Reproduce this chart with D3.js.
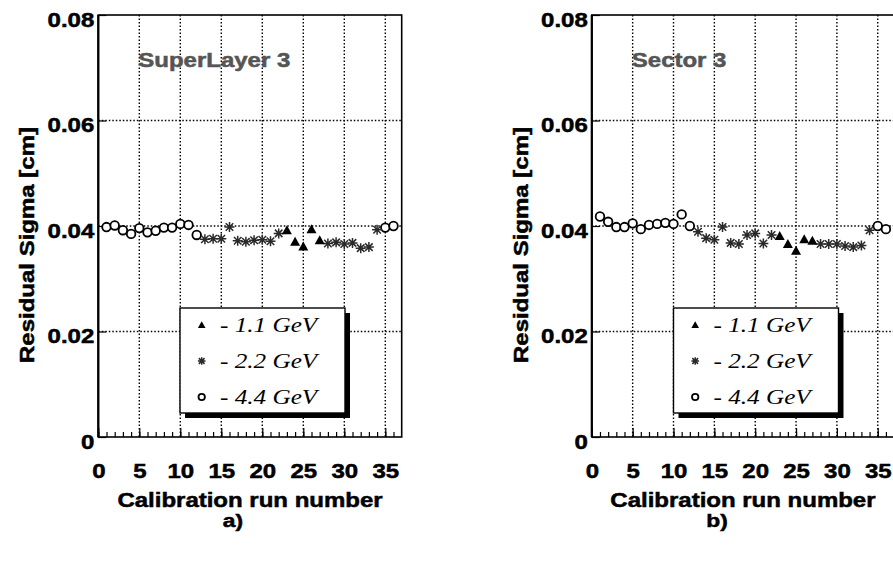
<!DOCTYPE html>
<html>
<head>
<meta charset="utf-8">
<script src="https://cdn.jsdelivr.net/npm/d3@7"></script>
<style>
  body { margin: 0; background: #fff; }
  svg { display: block; }
</style>
</head>
<body>
<div id="chart"></div>
<script>
// ---- data ----
var xTicks = [0, 5, 10, 15, 20, 25, 30, 35];
var yTicks = [0, 0.02, 0.04, 0.06, 0.08];
var yTickLabels = ["0", "0.02", "0.04", "0.06", "0.08"];
var legendLabels = ["- 1.1 GeV", "- 2.2 GeV", "- 4.4 GeV"];

// panel a) SuperLayer 3
var slRuns11 = [23, 24, 25, 26, 27];
var slSigma11 = [0.0392, 0.0370, 0.0361, 0.0394, 0.0373];
var slRuns22 = [13, 14, 15, 16, 17, 18, 19, 20, 21, 22, 28, 29, 30, 31, 32, 33, 34];
var slSigma22 = [0.0375, 0.0376, 0.0376, 0.0398, 0.0372, 0.0370, 0.0373, 0.0374, 0.0371, 0.0386,
                 0.0367, 0.0369, 0.0366, 0.0368, 0.0358, 0.0360, 0.0393];
var slRuns44 = [1, 2, 3, 4, 5, 6, 7, 8, 9, 10, 11, 12, 35, 36];
var slSigma44 = [0.0398, 0.0401, 0.0392, 0.0385, 0.0396, 0.0388, 0.0391, 0.0397, 0.0397, 0.0404,
                 0.0402, 0.0383, 0.0397, 0.0400];

// panel b) Sector 3
var secRuns11 = [23, 24, 25, 26, 27];
var secSigma11 = [0.0381, 0.0366, 0.0353, 0.0375, 0.0372];
var secRuns22 = [13, 14, 15, 16, 17, 18, 19, 20, 21, 22, 28, 29, 30, 31, 32, 33, 34];
var secSigma22 = [0.0389, 0.0377, 0.0374, 0.0398, 0.0368, 0.0366, 0.0383, 0.0386, 0.0367, 0.0383,
                  0.0366, 0.0366, 0.0366, 0.0362, 0.0360, 0.0363, 0.0392];
var secRuns44 = [1, 2, 3, 4, 5, 6, 7, 8, 9, 10, 11, 12, 35, 36];
var secSigma44 = [0.0418, 0.0408, 0.0398, 0.0398, 0.0405, 0.0394, 0.0402, 0.0404, 0.0406, 0.0404,
                  0.0422, 0.0400, 0.0400, 0.0394];

// ---- drawing ----
var SX = 1.2;  // glyphs in the original are wide
var SANS = '"Liberation Sans", Arial, Helvetica, sans-serif';
var SERIF = '"Liberation Serif", "Times New Roman", serif';

var svg = d3.select("#chart").append("svg").attr("width", 893).attr("height", 571);
svg.append("rect").attr("width", 893).attr("height", 571).attr("fill", "#fff");

function txt(g, x, y, s, o) {
    o = o || {};
    var t = g.append("text")
        .attr("transform", "translate(" + x + "," + y + ")" + (o.rot ? " rotate(" + o.rot + ")" : "") + " scale(" + SX + ",1)")
        .attr("text-anchor", o.anchor || "middle")
        .style("font-family", o.font || SANS)
        .style("font-size", (o.size || 19) + "px")
        .style("font-weight", o.weight || "bold")
        .style("font-style", o.style || "normal")
        .style("fill", o.fill || "#000")
        .text(s);
    if (o.heavy !== false) t.style("stroke", o.fill || "#000").style("stroke-width", 0.5);
    return t;
}

function marker(g, kind, x, y, r) {
    if (kind == "tri") {
        g.append("path")
            .attr("d", "M" + x + "," + (y - r) + "L" + (x + r) + "," + (y + r * 0.8) + "L" + (x - r) + "," + (y + r * 0.8) + "Z")
            .attr("fill", "#000");
    } else if (kind == "star") {
        var d = r * 0.75;
        g.append("path")
            .attr("d", "M" + (x - r) + "," + y + "H" + (x + r) +
                       "M" + x + "," + (y - r) + "V" + (y + r) +
                       "M" + (x - d) + "," + (y - d) + "L" + (x + d) + "," + (y + d) +
                       "M" + (x - d) + "," + (y + d) + "L" + (x + d) + "," + (y - d))
            .attr("stroke", "#2a2a2a").attr("stroke-width", 1.5).attr("fill", "none");
    } else {
        g.append("circle").attr("cx", x).attr("cy", y).attr("r", r)
            .attr("fill", "#fff").attr("stroke", "#000").attr("stroke-width", 1.8);
    }
}

function panel(cfg) {
    var top = 15, bottom = 437;
    var x = d3.scaleLinear().domain([0, 37]).range([cfg.x0, cfg.x0 + 37 * cfg.ppu]);
    var y = d3.scaleLinear().domain([0, 0.08]).range([bottom, top]);
    var g = svg.append("g");

    // dotted grid
    g.selectAll(".vg").data(xTicks.slice(1)).enter().append("line")
        .attr("x1", function(d) { return x(d); }).attr("x2", function(d) { return x(d); })
        .attr("y1", top).attr("y2", bottom)
        .attr("stroke", "#000").attr("stroke-width", 1.4).attr("stroke-dasharray", "1.5,2");
    g.selectAll(".hg").data(yTicks.slice(1, 4)).enter().append("line")
        .attr("x1", x(0)).attr("x2", x(37))
        .attr("y1", function(d) { return y(d); }).attr("y2", function(d) { return y(d); })
        .attr("stroke", "#000").attr("stroke-width", 1.4).attr("stroke-dasharray", "1.5,2");

    // ticks through d3 axes, pointing inside
    g.append("g").attr("transform", "translate(0," + bottom + ")")
        .call(d3.axisBottom(x).tickValues(d3.range(0, 37)).tickSize(-5).tickFormat(""));
    var major = g.append("g").attr("transform", "translate(0," + bottom + ")")
        .call(d3.axisBottom(x).tickValues(xTicks).tickSize(-9).tickPadding(0).tickFormat(function(d) { return d; }));
    major.selectAll("text")
        .attr("y", 41).attr("dy", null)
        .attr("transform", "scale(" + SX + ",1)")
        .style("font-family", SANS).style("font-size", "20px").style("font-weight", "bold")
        .style("fill", "#000").style("stroke", "#000").style("stroke-width", 0.5);
    var yax = g.append("g").attr("transform", "translate(" + x(0) + ",0)")
        .call(d3.axisLeft(y).tickValues(yTicks).tickSize(-8).tickFormat(function(d, i) { return yTickLabels[i]; }));
    yax.selectAll("text")
        .attr("x", -4 / SX).attr("dy", null).attr("y", 11)
        .attr("transform", "scale(" + SX + ",1)")
        .style("font-family", SANS).style("font-size", "20px").style("font-weight", "bold")
        .style("fill", "#000").style("stroke", "#000").style("stroke-width", 0.5);
    g.selectAll(".domain").remove();
    g.selectAll(".tick line").attr("stroke", "#000").attr("stroke-width", 1.2);

    // frame
    g.append("rect").attr("x", x(0)).attr("y", top).attr("width", x(37) - x(0)).attr("height", bottom - top)
        .attr("fill", "none").attr("stroke", "#000").attr("stroke-width", 1.6);
    g.append("line").attr("x1", x(0)).attr("x2", x(0)).attr("y1", top).attr("y2", bottom)
        .attr("stroke", "#000").attr("stroke-width", 2.2);

    // data markers
    cfg.runs44.forEach(function(r, i) { marker(g, "circ", x(r), y(cfg.sig44[i]), 4.3); });
    cfg.runs22.forEach(function(r, i) { marker(g, "star", x(r), y(cfg.sig22[i]), 5); });
    cfg.runs11.forEach(function(r, i) { marker(g, "tri", x(r), y(cfg.sig11[i]), 5); });

    // panel title
    txt(g, x(0) + 40, 67, cfg.title, { anchor: "start", size: 20, fill: "#555" });

    // legend box with shadow
    var lx = x(0) + 81.7, ly = 308, lw = 165, lh = 105;
    g.append("rect").attr("x", lx + 5).attr("y", ly + 5).attr("width", lw).attr("height", lh).attr("fill", "#000");
    g.append("rect").attr("x", lx).attr("y", ly).attr("width", lw).attr("height", lh)
        .attr("fill", "#fff").attr("stroke", "#000").attr("stroke-width", 1.4);
    var kinds = ["tri", "star", "circ"];
    legendLabels.forEach(function(s, i) {
        var cy = ly + 17 + i * 36;
        marker(g, kinds[i], lx + 21.7, cy, kinds[i] == "circ" ? 3.2 : 3.8);
        txt(g, lx + 40, cy + 7, s, { anchor: "start", size: 21, weight: "normal", style: "italic", font: SERIF, heavy: false });
    });

    // axis titles
    txt(g, (x(0) + x(37)) / 2, 507, "Calibration run number", { size: 20 });
    txt(g, x(0) - 64, 245, "Residual Sigma [cm]", { size: 20, rot: -90 });
    txt(g, cfg.tagX, 527, cfg.tag, { size: 19 });
}

panel({ x0: 98.3, ppu: 8.2, title: "SuperLayer 3", tag: "a)", tagX: 233,
        runs11: slRuns11, sig11: slSigma11, runs22: slRuns22, sig22: slSigma22, runs44: slRuns44, sig44: slSigma44 });
panel({ x0: 591.8, ppu: 8.17, title: "Sector 3", tag: "b)", tagX: 717,
        runs11: secRuns11, sig11: secSigma11, runs22: secRuns22, sig22: secSigma22, runs44: secRuns44, sig44: secSigma44 });
</script>
</body>
</html>
